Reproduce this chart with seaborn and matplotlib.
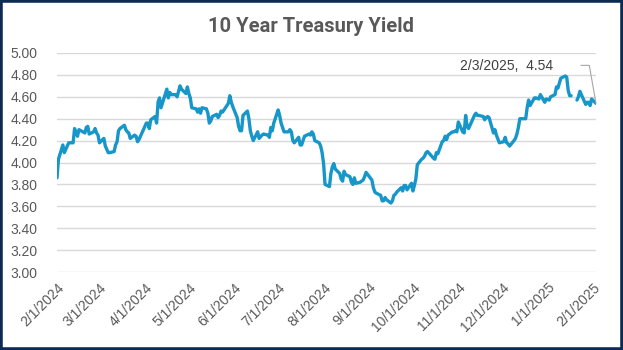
import numpy as np
import pandas as pd
import matplotlib
matplotlib.use("Agg")
import matplotlib.pyplot as plt
from matplotlib.patches import Rectangle
import seaborn as sns

# ---------------- data ----------------
title = "10 Year Treasury Yield"

dates = [
    # Feb 2024
    "2024-02-01", "2024-02-02", "2024-02-05", "2024-02-06", "2024-02-07", "2024-02-08", "2024-02-09",
    "2024-02-12", "2024-02-13", "2024-02-14", "2024-02-15", "2024-02-16", "2024-02-20", "2024-02-21",
    "2024-02-22", "2024-02-23", "2024-02-26", "2024-02-27", "2024-02-28", "2024-02-29",
    # Mar 2024
    "2024-03-01", "2024-03-04", "2024-03-05", "2024-03-06", "2024-03-07", "2024-03-08", "2024-03-11",
    "2024-03-12", "2024-03-13", "2024-03-14", "2024-03-15", "2024-03-18", "2024-03-19", "2024-03-20",
    "2024-03-21", "2024-03-22", "2024-03-25", "2024-03-26", "2024-03-27", "2024-03-28",
    # Apr 2024
    "2024-04-01", "2024-04-02", "2024-04-03", "2024-04-04", "2024-04-05", "2024-04-08", "2024-04-09",
    "2024-04-10", "2024-04-11", "2024-04-12", "2024-04-15", "2024-04-16", "2024-04-17", "2024-04-18",
    "2024-04-19", "2024-04-22", "2024-04-23", "2024-04-24", "2024-04-25", "2024-04-26", "2024-04-29",
    "2024-04-30",
    # May 2024
    "2024-05-01", "2024-05-02", "2024-05-03", "2024-05-06", "2024-05-07", "2024-05-08", "2024-05-09",
    "2024-05-10", "2024-05-13", "2024-05-14", "2024-05-15", "2024-05-16", "2024-05-17", "2024-05-20",
    "2024-05-21", "2024-05-22", "2024-05-23", "2024-05-24", "2024-05-28", "2024-05-29", "2024-05-30",
    "2024-05-31",
    # Jun 2024
    "2024-06-03", "2024-06-04", "2024-06-05", "2024-06-06", "2024-06-07", "2024-06-10", "2024-06-11",
    "2024-06-12", "2024-06-13", "2024-06-14", "2024-06-17", "2024-06-18", "2024-06-20", "2024-06-21",
    "2024-06-24", "2024-06-25", "2024-06-26", "2024-06-27", "2024-06-28",
    # Jul 2024
    "2024-07-01", "2024-07-02", "2024-07-03", "2024-07-05", "2024-07-08", "2024-07-09", "2024-07-10",
    "2024-07-11", "2024-07-12", "2024-07-15", "2024-07-16", "2024-07-17", "2024-07-18", "2024-07-19",
    "2024-07-22", "2024-07-23", "2024-07-24", "2024-07-25", "2024-07-26", "2024-07-29", "2024-07-30",
    "2024-07-31",
    # Aug 2024
    "2024-08-01", "2024-08-02", "2024-08-05", "2024-08-06", "2024-08-07", "2024-08-08", "2024-08-09",
    "2024-08-12", "2024-08-13", "2024-08-14", "2024-08-15", "2024-08-16", "2024-08-19", "2024-08-20",
    "2024-08-21", "2024-08-22", "2024-08-23", "2024-08-26", "2024-08-27", "2024-08-28", "2024-08-29",
    "2024-08-30",
    # Sep 2024
    "2024-09-03", "2024-09-04", "2024-09-05", "2024-09-06", "2024-09-09", "2024-09-10", "2024-09-11",
    "2024-09-12", "2024-09-13", "2024-09-16", "2024-09-17", "2024-09-18", "2024-09-19", "2024-09-20",
    "2024-09-23", "2024-09-24", "2024-09-25", "2024-09-26", "2024-09-27", "2024-09-30",
    # Oct 2024
    "2024-10-01", "2024-10-02", "2024-10-03", "2024-10-04", "2024-10-07", "2024-10-08", "2024-10-09",
    "2024-10-10", "2024-10-11", "2024-10-15", "2024-10-16", "2024-10-17", "2024-10-18", "2024-10-21",
    "2024-10-22", "2024-10-23", "2024-10-24", "2024-10-25", "2024-10-28", "2024-10-29", "2024-10-30",
    "2024-10-31",
    # Nov 2024
    "2024-11-01", "2024-11-04", "2024-11-05", "2024-11-06", "2024-11-07", "2024-11-08", "2024-11-12",
    "2024-11-13", "2024-11-14", "2024-11-15", "2024-11-18", "2024-11-19", "2024-11-20", "2024-11-21",
    "2024-11-22", "2024-11-25", "2024-11-26", "2024-11-27", "2024-11-29",
    # Dec 2024
    "2024-12-02", "2024-12-03", "2024-12-04", "2024-12-05", "2024-12-06", "2024-12-09", "2024-12-10",
    "2024-12-11", "2024-12-12", "2024-12-13", "2024-12-16", "2024-12-17", "2024-12-18", "2024-12-19",
    "2024-12-20", "2024-12-23", "2024-12-24", "2024-12-26", "2024-12-27", "2024-12-30", "2024-12-31",
    # Jan / Feb 2025
    "2025-01-02", "2025-01-03", "2025-01-06", "2025-01-07", "2025-01-08", "2025-01-10", "2025-01-13",
    "2025-01-14", "2025-01-15", "2025-01-16", "2025-01-17", "2025-01-20", "2025-01-21", "2025-01-22",
    "2025-01-23", "2025-01-24", "2025-01-27", "2025-01-28", "2025-01-29", "2025-01-30", "2025-01-31",
    "2025-02-03",
]

yields = [
    # Feb 2024
    3.86, 4.03, 4.16, 4.09, 4.12, 4.15, 4.18, 4.18, 4.31, 4.27, 4.24, 4.30, 4.27, 4.32,
    4.33, 4.26, 4.28, 4.31, 4.27, 4.25,
    # Mar 2024
    4.18, 4.22, 4.15, 4.12, 4.09, 4.09, 4.10, 4.16, 4.19, 4.29, 4.31, 4.34, 4.30, 4.28,
    4.27, 4.22, 4.25, 4.24, 4.19, 4.21,
    # Apr 2024
    4.33, 4.36, 4.36, 4.31, 4.39, 4.42, 4.36, 4.55, 4.59, 4.50, 4.63, 4.67, 4.59, 4.64,
    4.62, 4.62, 4.60, 4.65, 4.70, 4.67, 4.63, 4.69,
    # May 2024
    4.63, 4.59, 4.50, 4.49, 4.46, 4.49, 4.45, 4.50, 4.49, 4.45, 4.36, 4.38, 4.42, 4.44,
    4.41, 4.43, 4.47, 4.46, 4.54, 4.61, 4.55, 4.51,
    # Jun 2024
    4.41, 4.33, 4.29, 4.29, 4.43, 4.47, 4.40, 4.29, 4.24, 4.20, 4.28, 4.22, 4.25, 4.26,
    4.25, 4.23, 4.32, 4.29, 4.36,
    # Jul 2024
    4.48, 4.43, 4.36, 4.28, 4.28, 4.30, 4.28, 4.20, 4.18, 4.23, 4.16, 4.16, 4.20, 4.24,
    4.26, 4.25, 4.28, 4.26, 4.20, 4.18, 4.15, 4.09,
    # Aug 2024
    3.99, 3.80, 3.78, 3.90, 3.96, 3.99, 3.94, 3.90, 3.85, 3.83, 3.92, 3.89, 3.87, 3.82,
    3.80, 3.86, 3.81, 3.82, 3.83, 3.84, 3.87, 3.91,
    # Sep 2024
    3.84, 3.77, 3.73, 3.72, 3.70, 3.65, 3.65, 3.68, 3.66, 3.63, 3.65, 3.70, 3.71, 3.73,
    3.77, 3.74, 3.79, 3.79, 3.75, 3.81,
    # Oct 2024
    3.74, 3.79, 3.85, 3.98, 4.03, 4.04, 4.06, 4.09, 4.10, 4.04, 4.03, 4.09, 4.08, 4.19,
    4.20, 4.24, 4.21, 4.25, 4.28, 4.28, 4.29, 4.28,
    # Nov 2024
    4.37, 4.28, 4.27, 4.43, 4.33, 4.31, 4.43, 4.45, 4.43, 4.43, 4.42, 4.39, 4.41, 4.42,
    4.41, 4.27, 4.30, 4.25, 4.18,
    # Dec 2024
    4.19, 4.23, 4.18, 4.17, 4.15, 4.20, 4.22, 4.26, 4.32, 4.40, 4.40, 4.40, 4.50, 4.57,
    4.52, 4.59, 4.59, 4.58, 4.62, 4.55, 4.58,
    # Jan / Feb 2025  (blank on 1/20 -> gap in the line)
    4.57, 4.60, 4.62, 4.69, 4.68, 4.77, 4.79, 4.78, 4.66, 4.61, 4.61, np.nan, 4.57, 4.60,
    4.65, 4.62, 4.53, 4.55, 4.55, 4.52, 4.58, 4.54,
]

month_ticks = ["2/1/2024", "3/1/2024", "4/1/2024", "5/1/2024", "6/1/2024", "7/1/2024",
               "8/1/2024", "9/1/2024", "10/1/2024", "11/1/2024", "12/1/2024", "1/1/2025",
               "2/1/2025"]
y_ticks = [3.00, 3.20, 3.40, 3.60, 3.80, 4.00, 4.20, 4.40, 4.60, 4.80, 5.00]
label_text = "2/3/2025,  4.54"

# ---------------- styling ----------------
line_color = "#1796c9"
grid_color = "#d9d9d9"
text_color = "#595959"
border_color = "#0c2a52"

sns.set_theme(style="white")
plt.rcParams["font.family"] = ["Liberation Sans", "DejaVu Sans"]

df = pd.DataFrame({"date": pd.to_datetime(dates), "yield": yields})
df["segment"] = df["yield"].isna().cumsum()
df = df.dropna()

fig = plt.figure(figsize=(6.23, 3.50), dpi=100)
ax = fig.add_axes([57 / 623, 1 - 272 / 350, (596 - 57) / 623, (272 - 53) / 350])

sns.lineplot(data=df, x="date", y="yield", units="segment", estimator=None,
             color=line_color, linewidth=2.4, ax=ax, legend=False)

ax.set_xlim(pd.Timestamp(dates[0]), pd.Timestamp(dates[-1]))
ax.set_ylim(y_ticks[0], y_ticks[-1])
ax.set_yticks(y_ticks)
ax.set_yticklabels([f"{v:.2f}" for v in y_ticks])
ax.set_xticks(pd.to_datetime(month_ticks, format="%m/%d/%Y"))
ax.set_xticklabels(month_ticks, rotation=45, ha="right", rotation_mode="anchor")
ax.set_xlabel("")
ax.set_ylabel("")

ax.grid(axis="y", color=grid_color, linewidth=1.0)
ax.grid(axis="x", visible=False)
ax.set_axisbelow(True)
for s in ax.spines.values():
    s.set_visible(False)
ax.tick_params(axis="both", length=0, colors=text_color, labelsize=10)
ax.tick_params(axis="y", pad=14)
ax.tick_params(axis="x", pad=6)

# title
fig.text(0.5, 1 - 27 / 350, title, ha="center", va="center", fontsize=14.5,
         fontweight="bold", color=text_color, family=["Roboto", "DejaVu Sans"])

# data label with leader line on the last point
last_x = pd.Timestamp(dates[-1])
last_y = yields[-1]
ax.annotate(label_text, xy=(last_x, last_y), xytext=(-43, 37), textcoords="offset pixels",
            ha="right", va="center", fontsize=10, color="#404040", annotation_clip=False)
ax.annotate("", xy=(last_x, last_y), xytext=(-15, 38), textcoords="offset pixels",
            annotation_clip=False,
            arrowprops=dict(arrowstyle="-", color="#a6a6a6", lw=0.8, shrinkA=0, shrinkB=0,
                            connectionstyle="angle,angleA=0,angleB=100,rad=0"))

# outer border
fig.patches.append(Rectangle((0, 0), 1, 1, transform=fig.transFigure, fill=False,
                             edgecolor=border_color, linewidth=4))

fig.savefig("out.png", dpi=100)
